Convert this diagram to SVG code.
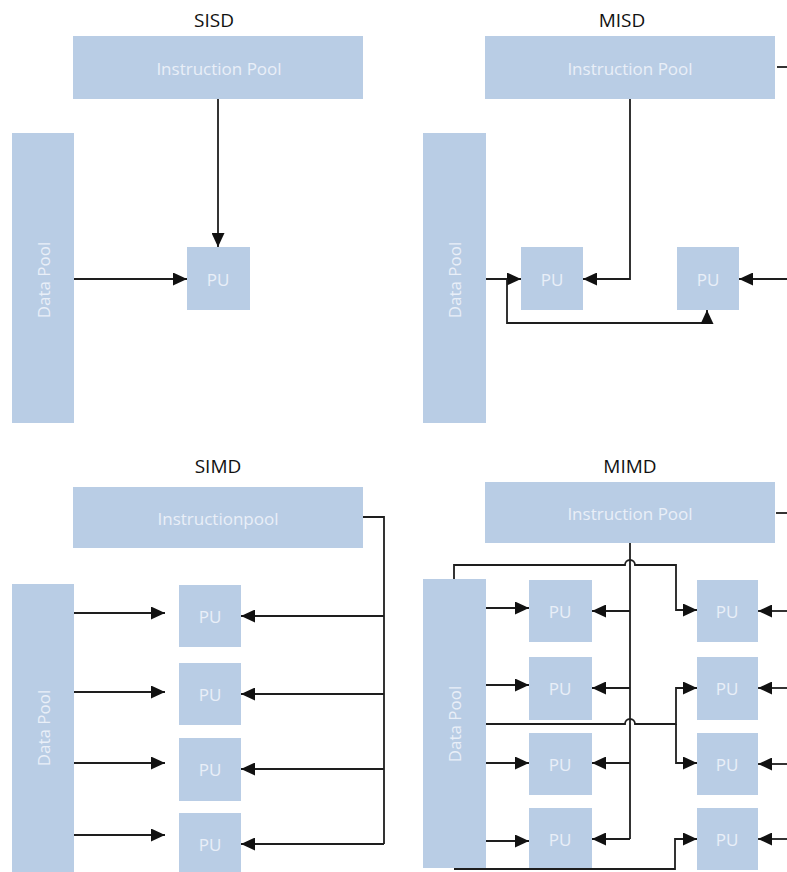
<svg xmlns="http://www.w3.org/2000/svg" width="787" height="872" viewBox="0 0 787 872">
  <style>
    .box { fill: #b9cde5; }
    .lbl { font-family: "Open Sans", "Noto Sans", sans-serif; font-size: 17px; fill: #e9eff8; text-anchor: middle; dominant-baseline: central; }
    .pu { font-family: "Open Sans", "Noto Sans", sans-serif; font-size: 17px; fill: #e9eff8; text-anchor: middle; dominant-baseline: central; }
    .title { font-family: "Open Sans", "Noto Sans", sans-serif; font-size: 19px; fill: #111; text-anchor: middle; }
    .wire { fill: none; stroke: #1e1e1e; stroke-width: 1.8; }
    .arr { fill: none; stroke: #1e1e1e; stroke-width: 1.8; marker-end: url(#head); }
  </style>
  <defs>
    <marker id="head" markerUnits="userSpaceOnUse" markerWidth="14" markerHeight="13" refX="14" refY="6.5" orient="auto">
      <path d="M0,0 L14,6.5 L0,13 z" fill="#111"/>
    </marker>
  </defs>
  <rect width="787" height="872" fill="#fff"/>

  <!-- section titles -->
  <text class="title" x="214" y="27">SISD</text>
  <text class="title" x="622" y="27">MISD</text>
  <text class="title" x="218" y="473">SIMD</text>
  <text class="title" x="630" y="473">MIMD</text>

  <!-- SISD -->
  <g id="sisd-instruction-pool"><rect class="box" x="73" y="36" width="290" height="63"/><text class="lbl" x="219" y="68">Instruction Pool</text></g>
  <g id="sisd-data-pool"><rect class="box" x="12" y="133" width="62" height="290"/><text class="lbl" transform="translate(43,280) rotate(-90)">Data Pool</text></g>
  <g id="sisd-pu"><rect class="box" x="187" y="247" width="63" height="63"/><text class="pu" x="218" y="279">PU</text></g>

  <!-- MISD -->
  <g id="misd-instruction-pool"><rect class="box" x="485" y="36" width="290" height="63"/><text class="lbl" x="630" y="68">Instruction Pool</text></g>
  <g id="misd-data-pool"><rect class="box" x="423" y="133" width="63" height="290"/><text class="lbl" transform="translate(454,280) rotate(-90)">Data Pool</text></g>
  <g id="misd-pu-1"><rect class="box" x="521" y="247" width="62" height="63"/><text class="pu" x="552" y="279">PU</text></g>
  <g id="misd-pu-2"><rect class="box" x="677" y="247" width="62" height="63"/><text class="pu" x="708" y="279">PU</text></g>

  <!-- SIMD -->
  <g id="simd-instruction-pool"><rect class="box" x="73" y="487" width="290" height="61"/><text class="lbl" x="218" y="518">Instructionpool</text></g>
  <g id="simd-data-pool"><rect class="box" x="12" y="584" width="62" height="290"/><text class="lbl" transform="translate(43,728) rotate(-90)">Data Pool</text></g>
  <g id="simd-pu-1"><rect class="box" x="179" y="585" width="62" height="62"/><text class="pu" x="210" y="616">PU</text></g>
  <g id="simd-pu-2"><rect class="box" x="179" y="663" width="62" height="62"/><text class="pu" x="210" y="694">PU</text></g>
  <g id="simd-pu-3"><rect class="box" x="179" y="738" width="62" height="63"/><text class="pu" x="210" y="769">PU</text></g>
  <g id="simd-pu-4"><rect class="box" x="179" y="813" width="62" height="62"/><text class="pu" x="210" y="844">PU</text></g>

  <!-- MIMD -->
  <g id="mimd-instruction-pool"><rect class="box" x="485" y="482" width="290" height="61"/><text class="lbl" x="630" y="513">Instruction Pool</text></g>
  <g id="mimd-data-pool"><rect class="box" x="423" y="579" width="63" height="289"/><text class="lbl" transform="translate(454,724) rotate(-90)">Data Pool</text></g>
  <g id="mimd-pu-l1"><rect class="box" x="529" y="580" width="63" height="62"/><text class="pu" x="560" y="611">PU</text></g>
  <g id="mimd-pu-l2"><rect class="box" x="529" y="657" width="63" height="63"/><text class="pu" x="560" y="688">PU</text></g>
  <g id="mimd-pu-l3"><rect class="box" x="529" y="733" width="63" height="62"/><text class="pu" x="560" y="764">PU</text></g>
  <g id="mimd-pu-l4"><rect class="box" x="529" y="808" width="63" height="62"/><text class="pu" x="560" y="839">PU</text></g>
  <g id="mimd-pu-r1"><rect class="box" x="697" y="580" width="61" height="62"/><text class="pu" x="727" y="611">PU</text></g>
  <g id="mimd-pu-r2"><rect class="box" x="697" y="657" width="61" height="63"/><text class="pu" x="727" y="688">PU</text></g>
  <g id="mimd-pu-r3"><rect class="box" x="697" y="733" width="61" height="62"/><text class="pu" x="727" y="764">PU</text></g>
  <g id="mimd-pu-r4"><rect class="box" x="697" y="808" width="61" height="62"/><text class="pu" x="727" y="839">PU</text></g>

  <g id="connectors">
    <!-- SISD -->
    <path class="arr" d="M218,99 V247"/>
    <path class="arr" d="M74,279 H187"/>

    <!-- MISD -->
    <path class="arr" d="M486,279 H521"/>
    <path class="arr" d="M507,279 V323 H707 V310"/>
    <path class="arr" d="M630,99 V279 H583"/>
    <path class="wire" d="M777,67 H790"/>
    <path class="arr" d="M790,279 H739"/>

    <!-- SIMD -->
    <path class="wire" d="M363,517 H384 V844"/>
    <path class="arr" d="M74,613 H165"/>
    <path class="arr" d="M74,692 H165"/>
    <path class="arr" d="M74,763 H165"/>
    <path class="arr" d="M74,835 H165"/>
    <path class="arr" d="M384,616 H241"/>
    <path class="arr" d="M384,694 H241"/>
    <path class="arr" d="M384,769 H241"/>
    <path class="arr" d="M384,844 H241"/>

    <!-- MIMD -->
    <path class="wire" d="M776,513 H790"/>
    <path class="wire" d="M630,543 V839"/>
    <path class="arr" d="M630,611 H592"/>
    <path class="arr" d="M630,688 H592"/>
    <path class="arr" d="M630,763 H592"/>
    <path class="arr" d="M630,839 H592"/>
    <path class="arr" d="M486,608 H529"/>
    <path class="arr" d="M486,685 H529"/>
    <path class="arr" d="M486,763 H529"/>
    <path class="arr" d="M486,841 H529"/>
    <path class="arr" d="M454,579 V565 H625 A5,5 0 0 1 635,565 H676 V610 H697"/>
    <path class="arr" d="M486,724 H625 A5,5 0 0 1 635,724 H676 V688 H697"/>
    <path class="arr" d="M676,724 V763 H697"/>
    <path class="arr" d="M454,869 H675 V839 H697"/>
    <path class="arr" d="M790,611 H758"/>
    <path class="arr" d="M790,688 H758"/>
    <path class="arr" d="M790,764 H758"/>
    <path class="arr" d="M790,839 H758"/>
  </g>
</svg>
